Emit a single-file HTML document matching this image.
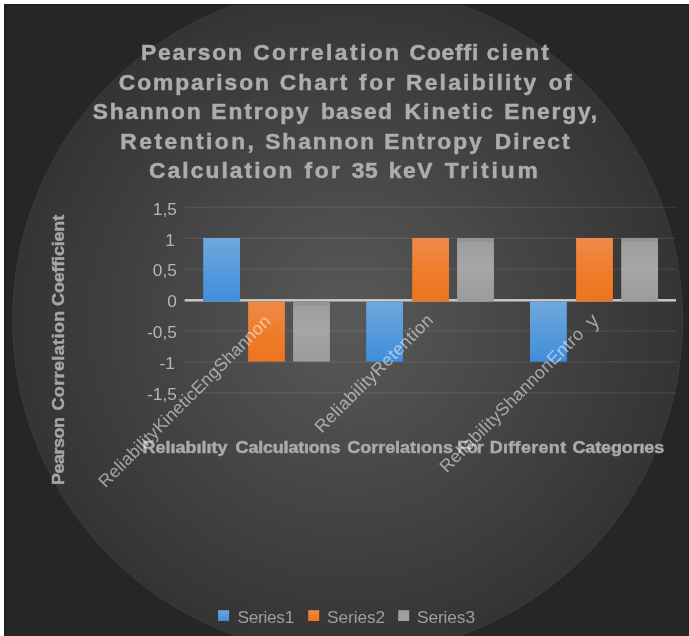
<!DOCTYPE html>
<html><head><meta charset="utf-8"><title>Chart</title>
<style>
html,body{margin:0;padding:0;background:#fff;}
body{width:689px;height:636px;overflow:hidden;position:relative;font-family:"Liberation Sans",sans-serif;}
svg{position:absolute;left:0;top:0;}
text{font-family:"Liberation Sans",sans-serif;}
</style></head><body>
<svg width="689" height="636" viewBox="0 0 689 636">
<defs>
<radialGradient id="bg" gradientUnits="userSpaceOnUse" cx="347.6" cy="320" r="335.2">
<stop offset="0" stop-color="#595959"/>
<stop offset="1" stop-color="#343434"/>
</radialGradient>
<linearGradient id="gb" x1="0" y1="0" x2="0" y2="1"><stop offset="0" stop-color="#6fa8dc"/><stop offset="1" stop-color="#3f8edb"/></linearGradient>
<linearGradient id="go" x1="0" y1="0" x2="0" y2="1"><stop offset="0" stop-color="#ee8b48"/><stop offset="0.55" stop-color="#ef7c29"/><stop offset="1" stop-color="#ed7420"/></linearGradient>
<linearGradient id="gg" x1="0" y1="0" x2="0" y2="1"><stop offset="0" stop-color="#949494"/><stop offset="0.06" stop-color="#949494"/><stop offset="0.07" stop-color="#9e9e9e"/><stop offset="0.45" stop-color="#a6a6a6"/><stop offset="1" stop-color="#9b9b9b"/></linearGradient>
<filter id="soft" x="0" y="0" width="689" height="636" filterUnits="userSpaceOnUse"><feGaussianBlur stdDeviation="0.5"/></filter>
<clipPath id="clip"><rect x="5" y="5" width="685" height="632"/></clipPath>
</defs>
<rect x="4" y="4" width="686" height="633" fill="#262626"/>
<rect x="4" y="4" width="686" height="1" fill="#1c1c1c"/>
<rect x="4" y="4" width="1" height="633" fill="#1c1c1c"/>
<g clip-path="url(#clip)">
<circle cx="347.6" cy="320" r="335.2" fill="url(#bg)"/>
<circle cx="347.6" cy="320" r="334.9" fill="none" stroke="#3b3b3b" stroke-width="1"/>
</g>
<rect x="185" y="206.70" width="491" height="1.4" fill="#f2f2f2" fill-opacity="0.085"/>
<rect x="185" y="237.60" width="491" height="1.4" fill="#f2f2f2" fill-opacity="0.085"/>
<rect x="185" y="268.50" width="491" height="1.4" fill="#f2f2f2" fill-opacity="0.085"/>
<rect x="185" y="330.30" width="491" height="1.4" fill="#f2f2f2" fill-opacity="0.085"/>
<rect x="185" y="361.20" width="491" height="1.4" fill="#f2f2f2" fill-opacity="0.085"/>
<rect x="185" y="392.10" width="491" height="1.4" fill="#f2f2f2" fill-opacity="0.085"/>
<rect x="184.6" y="299.1" width="491.4" height="2.4" fill="#cbcbcb"/>
<rect x="203.2" y="238.0" width="36.8" height="63.5" fill="url(#gb)"/>
<rect x="248.1" y="301.5" width="36.8" height="60.1" fill="url(#go)"/>
<rect x="293.1" y="301.5" width="36.8" height="60.1" fill="url(#gg)"/>
<rect x="366.2" y="301.5" width="36.8" height="60.1" fill="url(#gb)"/>
<rect x="412.2" y="238.0" width="36.8" height="63.5" fill="url(#go)"/>
<rect x="457.1" y="238.0" width="36.8" height="63.5" fill="url(#gg)"/>
<rect x="530.0" y="301.5" width="36.8" height="60.1" fill="url(#gb)"/>
<rect x="576.1" y="238.0" width="36.8" height="63.5" fill="url(#go)"/>
<rect x="621.2" y="238.0" width="36.8" height="63.5" fill="url(#gg)"/>
<g filter="url(#soft)">
<text transform="translate(140.93,60.10) scale(1.07,1)" font-size="21.3" font-weight="bold" fill="#adadad" stroke="#adadad" stroke-width="0.45" letter-spacing="1.717">Pearson</text>
<text transform="translate(253.20,60.10) scale(1.07,1)" font-size="21.3" font-weight="bold" fill="#adadad" stroke="#adadad" stroke-width="0.45" letter-spacing="2.265">Correlation</text>
<text transform="translate(409.60,60.10) scale(1.07,1)" font-size="21.3" font-weight="bold" fill="#adadad" stroke="#adadad" stroke-width="0.45" letter-spacing="0.771">Coeffi</text>
<text transform="translate(486.80,60.10) scale(1.07,1)" font-size="21.3" font-weight="bold" fill="#adadad" stroke="#adadad" stroke-width="0.45" letter-spacing="2.082">cient</text>
<text transform="translate(118.80,89.90) scale(1.07,1)" font-size="21.3" font-weight="bold" fill="#adadad" stroke="#adadad" stroke-width="0.45" letter-spacing="1.790">Comparison</text>
<text transform="translate(279.80,89.90) scale(1.07,1)" font-size="21.3" font-weight="bold" fill="#adadad" stroke="#adadad" stroke-width="0.45" letter-spacing="1.891">Chart</text>
<text transform="translate(358.90,89.90) scale(1.07,1)" font-size="21.3" font-weight="bold" fill="#adadad" stroke="#adadad" stroke-width="0.45" letter-spacing="2.492">for</text>
<text transform="translate(405.93,89.90) scale(1.07,1)" font-size="21.3" font-weight="bold" fill="#adadad" stroke="#adadad" stroke-width="0.45" letter-spacing="2.118">Relaibility</text>
<text transform="translate(548.80,89.90) scale(1.07,1)" font-size="21.3" font-weight="bold" fill="#adadad" stroke="#adadad" stroke-width="0.45" letter-spacing="1.514">of</text>
<text transform="translate(92.70,119.10) scale(1.07,1)" font-size="21.3" font-weight="bold" fill="#adadad" stroke="#adadad" stroke-width="0.45" letter-spacing="1.621">Shannon</text>
<text transform="translate(211.33,119.10) scale(1.07,1)" font-size="21.3" font-weight="bold" fill="#adadad" stroke="#adadad" stroke-width="0.45" letter-spacing="1.763">Entropy</text>
<text transform="translate(320.93,119.10) scale(1.07,1)" font-size="21.3" font-weight="bold" fill="#adadad" stroke="#adadad" stroke-width="0.45" letter-spacing="1.189">based</text>
<text transform="translate(404.53,119.10) scale(1.07,1)" font-size="21.3" font-weight="bold" fill="#adadad" stroke="#adadad" stroke-width="0.45" letter-spacing="1.936">Kinetic</text>
<text transform="translate(504.13,119.10) scale(1.07,1)" font-size="21.3" font-weight="bold" fill="#adadad" stroke="#adadad" stroke-width="0.45" letter-spacing="1.738">Energy,</text>
<text transform="translate(120.33,149.10) scale(1.07,1)" font-size="21.3" font-weight="bold" fill="#adadad" stroke="#adadad" stroke-width="0.45" letter-spacing="2.310">Retention,</text>
<text transform="translate(265.20,149.10) scale(1.07,1)" font-size="21.3" font-weight="bold" fill="#adadad" stroke="#adadad" stroke-width="0.45" letter-spacing="1.808">Shannon</text>
<text transform="translate(384.13,149.10) scale(1.07,1)" font-size="21.3" font-weight="bold" fill="#adadad" stroke="#adadad" stroke-width="0.45" letter-spacing="1.794">Entropy</text>
<text transform="translate(494.83,149.10) scale(1.07,1)" font-size="21.3" font-weight="bold" fill="#adadad" stroke="#adadad" stroke-width="0.45" letter-spacing="1.921">Direct</text>
<text transform="translate(149.10,178.20) scale(1.07,1)" font-size="21.3" font-weight="bold" fill="#adadad" stroke="#adadad" stroke-width="0.45" letter-spacing="1.931">Calculation</text>
<text transform="translate(304.60,178.20) scale(1.07,1)" font-size="21.3" font-weight="bold" fill="#adadad" stroke="#adadad" stroke-width="0.45" letter-spacing="2.305">for</text>
<text transform="translate(351.80,178.20) scale(1.07,1)" font-size="21.3" font-weight="bold" fill="#adadad" stroke="#adadad" stroke-width="0.45" letter-spacing="0.455">35</text>
<text transform="translate(388.83,178.20) scale(1.07,1)" font-size="21.3" font-weight="bold" fill="#adadad" stroke="#adadad" stroke-width="0.45" letter-spacing="1.389">keV</text>
<text transform="translate(444.70,178.20) scale(1.07,1)" font-size="21.3" font-weight="bold" fill="#adadad" stroke="#adadad" stroke-width="0.45" letter-spacing="2.670">Tritium</text>
<text transform="translate(142.56,452.60) scale(1.04,1)" font-size="17.3" font-weight="bold" fill="#ababab" stroke="#ababab" stroke-width="0.45" letter-spacing="0.013">Relıabılıty</text>
<text transform="translate(235.60,452.60) scale(1.04,1)" font-size="17.3" font-weight="bold" fill="#ababab" stroke="#ababab" stroke-width="0.45" letter-spacing="-0.177">Calculatıons</text>
<text transform="translate(347.20,452.60) scale(1.04,1)" font-size="17.3" font-weight="bold" fill="#ababab" stroke="#ababab" stroke-width="0.45" letter-spacing="-0.002">Correlatıons</text>
<text transform="translate(457.36,452.60) scale(1.04,1)" font-size="17.3" font-weight="bold" fill="#ababab" stroke="#ababab" stroke-width="0.45" letter-spacing="-1.248">For</text>
<text transform="translate(489.66,452.60) scale(1.04,1)" font-size="17.3" font-weight="bold" fill="#ababab" stroke="#ababab" stroke-width="0.45" letter-spacing="0.312">Dıfferent</text>
<text transform="translate(572.50,452.60) scale(1.04,1)" font-size="17.3" font-weight="bold" fill="#ababab" stroke="#ababab" stroke-width="0.45" letter-spacing="-0.123">Categorıes</text>
<text transform="translate(64.00,484.00) rotate(-90) translate(-1.04,0) scale(1.04,1)" font-size="17.3" font-weight="bold" fill="#a6a6a6" stroke="#a6a6a6" stroke-width="0.45" letter-spacing="-0.466">Pearson</text>
<text transform="translate(64.00,410.60) rotate(-90) translate(0.00,0) scale(1.04,1)" font-size="17.3" font-weight="bold" fill="#a6a6a6" stroke="#a6a6a6" stroke-width="0.45" letter-spacing="0.386">Correlation</text>
<text transform="translate(64.00,305.90) rotate(-90) translate(0.00,0) scale(1.04,1)" font-size="17.3" font-weight="bold" fill="#a6a6a6" stroke="#a6a6a6" stroke-width="0.45" letter-spacing="-0.175">Coefficient</text>
<text x="152.79" y="215.00" font-size="17.3" fill="#b5b5b5">1,5</text>
<text x="165.30" y="246.30" font-size="17.3" fill="#b5b5b5">1</text>
<text x="152.79" y="275.70" font-size="17.3" fill="#b5b5b5">0,5</text>
<text x="167.20" y="306.80" font-size="17.3" fill="#b5b5b5">0</text>
<text x="147.03" y="337.90" font-size="17.3" fill="#b5b5b5">-0,5</text>
<text x="159.55" y="368.90" font-size="17.3" fill="#b5b5b5">-1</text>
<text x="147.03" y="399.70" font-size="17.3" fill="#b5b5b5">-1,5</text>
<rect x="218.1" y="610.2" width="11" height="10.8" fill="url(#gb)"/>
<text x="237.40" y="623.00" font-size="17.3" fill="#9e9e9e" letter-spacing="-0.281">Series1</text>
<rect x="308.2" y="610.2" width="11" height="10.8" fill="url(#go)"/>
<text x="327.00" y="623.00" font-size="17.3" fill="#9e9e9e" letter-spacing="-0.081">Series2</text>
<rect x="398.2" y="610.2" width="11" height="10.8" fill="#9f9f9f"/>
<text x="417.00" y="623.00" font-size="17.3" fill="#9e9e9e" letter-spacing="-0.097">Series3</text>
<text transform="translate(271.00,323.00) rotate(-45)" x="-234.00" y="0" font-size="17.6" fill="#ffffff" fill-opacity="0.53" letter-spacing="0.183">ReliabilityKineticEngShannon</text>
<text transform="translate(433.50,322.00) rotate(-45)" x="-158.00" y="0" font-size="17.6" fill="#ffffff" fill-opacity="0.53" letter-spacing="0.431">ReliabilityRetention</text>
<text transform="translate(584.90,335.30) rotate(-45)" x="-195.30" y="0" font-size="17.6" fill="#ffffff" fill-opacity="0.53" letter-spacing="0.332">ReliabilityShannonEntro</text>
<text transform="translate(593.3,329.5) rotate(-45)" x="0" y="0" font-size="21" fill="#ffffff" fill-opacity="0.53">y</text>
</g>
</svg>
</body></html>
